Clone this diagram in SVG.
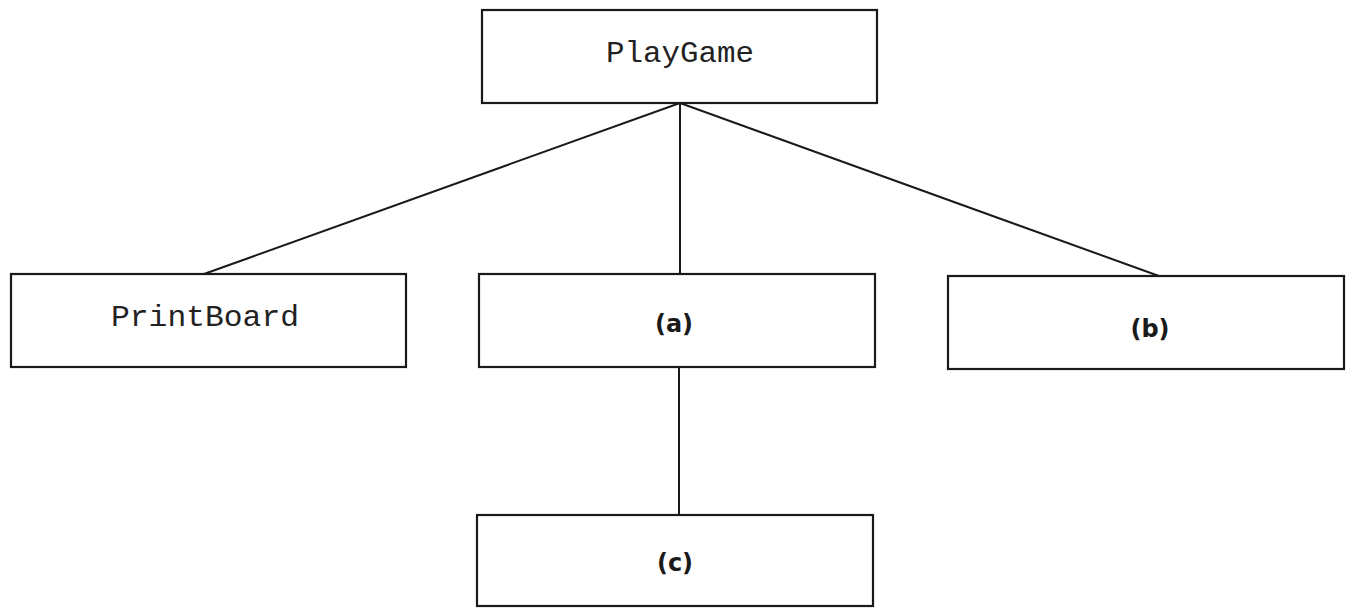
<svg xmlns="http://www.w3.org/2000/svg" width="1349" height="608" viewBox="0 0 1349 608">
<style>
.box{fill:#fff;stroke:#1a1a1a;stroke-width:2.2}
.edge{stroke:#1a1a1a;stroke-width:2;fill:none}
.mono{font-family:"Liberation Mono","Courier New",monospace;font-size:30px;fill:#222;text-anchor:middle}
.lbl{font-family:"DejaVu Sans",sans-serif;font-size:24px;font-weight:bold;fill:#1a1a1a;text-anchor:middle}
</style>
<rect width="1349" height="608" fill="#fff"/>
<g id="connectors">
<line class="edge" x1="680" y1="103" x2="204" y2="274"/>
<line class="edge" x1="680" y1="103" x2="680" y2="274"/>
<line class="edge" x1="680" y1="103" x2="1159" y2="276"/>
<line class="edge" x1="679" y1="367" x2="679" y2="515"/>
</g>
<g id="playgame">
<rect class="box" x="482" y="10" width="395" height="93"/>
<text class="mono" x="680" y="62" textLength="148" lengthAdjust="spacingAndGlyphs">PlayGame</text>
</g>
<g id="printboard">
<rect class="box" x="11" y="274" width="395" height="93"/>
<text class="mono" x="205" y="326" textLength="188" lengthAdjust="spacingAndGlyphs">PrintBoard</text>
</g>
<g id="a">
<rect class="box" x="479" y="274" width="396" height="93"/>
<text class="lbl" x="674" y="332">(a)</text>
</g>
<g id="b">
<rect class="box" x="948" y="276" width="396" height="93"/>
<text class="lbl" x="1150" y="337">(b)</text>
</g>
<g id="c">
<rect class="box" x="477" y="515" width="396" height="91"/>
<text class="lbl" x="675" y="571">(c)</text>
</g>
</svg>
